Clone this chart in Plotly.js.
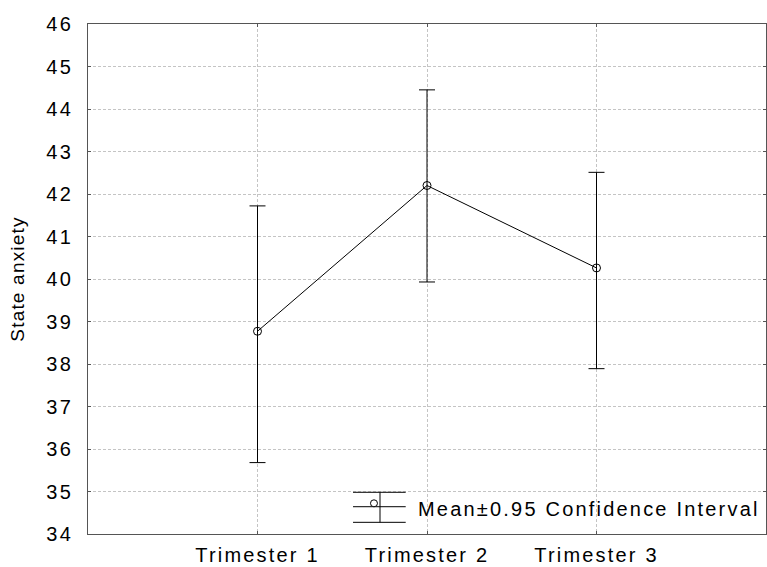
<!DOCTYPE html>
<html>
<head>
<meta charset="utf-8">
<script src="https://cdn.plot.ly/plotly-3.0.1.min.js"></script>
<style>
  html, body { margin: 0; padding: 0; background: #fff; }
  #chart { width: 767px; height: 567px; }
  .xtick text, .ytick text, .annotation-text { letter-spacing: 2.2px; }
  .ytitle { letter-spacing: 1.2px; }
</style>
</head>
<body>
<div id="chart"></div>
<script>
// Data
var categories = ["Trimester 1", "Trimester 2", "Trimester 3"];
var means = [38.77, 42.2, 40.26];
var upperCI = [41.72, 44.45, 42.51];
var lowerCI = [35.68, 39.93, 37.89];
var yTicks = [34, 35, 36, 37, 38, 39, 40, 41, 42, 43, 44, 45, 46];
var legendLabel = "Mean±0.95 Confidence Interval";
var yTitle = "State anxiety";

var errPlus = means.map(function (m, i) { return upperCI[i] - m; });
var errMinus = means.map(function (m, i) { return m - lowerCI[i]; });

var font = "Liberation Sans, Arial, sans-serif";

var trace = {
  type: "scatter",
  mode: "lines+markers",
  x: categories,
  y: means,
  line: { color: "#000", width: 1 },
  marker: { symbol: "circle-open", size: 8, color: "#000", line: { width: 1, color: "#000" } },
  error_y: {
    type: "data",
    symmetric: false,
    array: errPlus,
    arrayminus: errMinus,
    color: "#000",
    thickness: 1,
    width: 8
  },
  showlegend: false,
  hoverinfo: "skip"
};

// Legend symbol, placed in paper coordinates
var lx0 = 0.3909, lx1 = 0.4686, lxv = 0.4307;
var shapes = [
  { type: "line", xref: "paper", yref: "paper", x0: lx0, x1: lx1, y0: 0.0818, y1: 0.0818, line: { color: "#000", width: 1 } },
  { type: "line", xref: "paper", yref: "paper", x0: lx0, x1: lx1, y0: 0.0535, y1: 0.0535, line: { color: "#000", width: 1 } },
  { type: "line", xref: "paper", yref: "paper", x0: lx0, x1: lx1, y0: 0.0229, y1: 0.0229, line: { color: "#000", width: 1 } },
  { type: "line", xref: "paper", yref: "paper", x0: lxv, x1: lxv, y0: 0.0229, y1: 0.0818, line: { color: "#000", width: 1 } },
  { type: "circle", xref: "paper", yref: "paper", xsizemode: "pixel", ysizemode: "pixel",
    xanchor: 0.4218, yanchor: 0.0602, x0: -3.5, x1: 3.5, y0: -3.5, y1: 3.5,
    fillcolor: "#fff", line: { color: "#000", width: 1 } }
];

var layout = {
  width: 767,
  height: 567,
  margin: { l: 88, r: 1, t: 24, b: 33 },
  paper_bgcolor: "#fff",
  plot_bgcolor: "#fff",
  font: { family: font, size: 20, color: "#000" },
  showlegend: false,
  xaxis: {
    type: "category",
    range: [-1, 3],
    showgrid: true,
    gridcolor: "#c4c4c4",
    griddash: "3px,2px",
    gridwidth: 1,
    showline: true,
    linecolor: "#555",
    linewidth: 1,
    mirror: "ticks",
    ticks: "inside",
    ticklen: 3,
    tickcolor: "#555",
    zeroline: false,
    ticklabelstandoff: 3,
    tickfont: { family: font, size: 20, color: "#000" },
    fixedrange: true
  },
  yaxis: {
    range: [34, 46],
    tickmode: "array",
    tickvals: yTicks,
    ticktext: yTicks.map(String),
    showgrid: true,
    gridcolor: "#c4c4c4",
    griddash: "3px,2px",
    gridwidth: 1,
    showline: true,
    linecolor: "#555",
    linewidth: 1,
    mirror: "ticks",
    ticks: "inside",
    ticklen: 3,
    tickcolor: "#555",
    zeroline: false,
    ticklabelstandoff: 10,
    tickfont: { family: font, size: 20, color: "#000" },
    title: { text: yTitle, font: { family: font, size: 19, color: "#000" }, standoff: 16 },
    fixedrange: true
  },
  shapes: shapes,
  annotations: [
    { xref: "paper", yref: "paper", x: 0.4837, y: 0.049, xanchor: "left", yanchor: "middle",
      text: legendLabel, showarrow: false, font: { family: font, size: 20, color: "#000" } }
  ]
};

Plotly.newPlot("chart", [trace], layout, { staticPlot: true, displayModeBar: false });
</script>
</body>
</html>
